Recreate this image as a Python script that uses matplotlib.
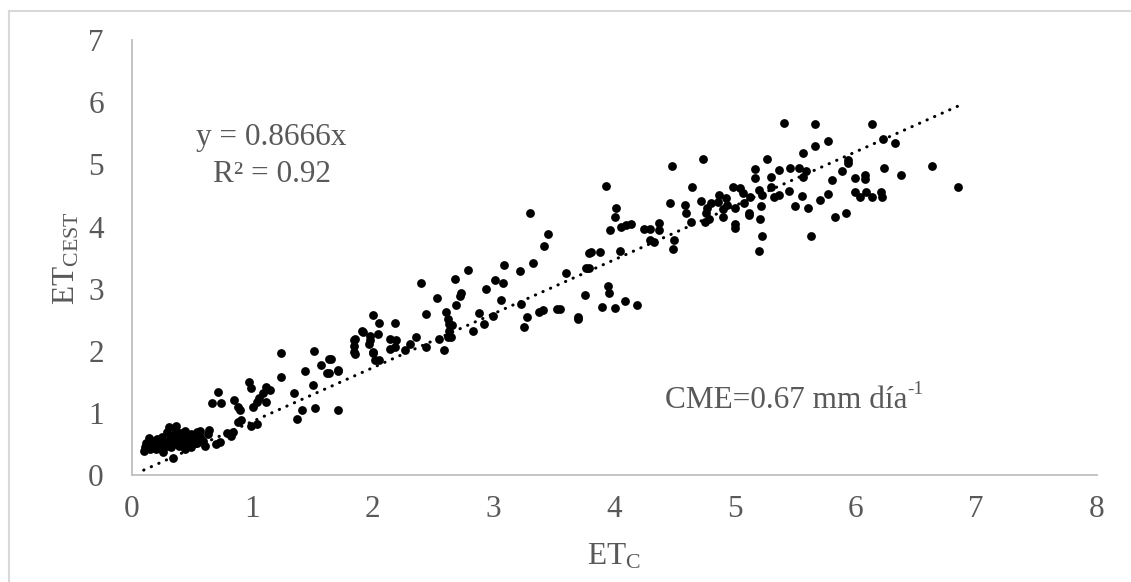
import matplotlib
matplotlib.use("Agg")
import matplotlib.pyplot as plt
from matplotlib.lines import Line2D

plt.rcParams['font.family'] = ['Liberation Serif', 'DejaVu Serif']
plt.rcParams['mathtext.fontset'] = 'custom'
plt.rcParams['mathtext.rm'] = 'Liberation Serif'
plt.rcParams['mathtext.it'] = 'Liberation Serif:italic'

# ETc (x) vs ETcest (y)
etc = [
    # low cluster
    0.10, 0.11, 0.12, 0.14, 0.15, 0.17, 0.19, 0.20, 0.21, 0.22, 0.24, 0.25, 0.27, 0.29,
    0.29, 0.31, 0.32, 0.34, 0.35, 0.37, 0.37, 0.39, 0.39, 0.41, 0.42, 0.44, 0.44, 0.46,
    0.47, 0.49, 0.49, 0.51, 0.54, 0.54, 0.57, 0.59, 0.61, 0.63, 0.26, 0.16, 0.33, 0.45,
    0.34, 0.64, 0.73, 0.79, 0.84, 0.88,
    # 0.5 - 2
    1.24, 1.51, 1.64, 1.57, 1.44, 1.62, 1.71, 1.24, 0.97, 0.99, 1.11, 1.15, 1.09, 1.06,
    1.04, 1.01, 0.72, 0.67, 0.74, 0.85, 0.88, 0.90, 1.11, 1.35, 1.50, 1.41, 1.37, 1.52,
    1.71, 0.91, 0.99, 1.04, 0.82, 0.70, 0.57, 1.84, 1.84, 1.92, 1.98, 2.00, 2.02,
    # 2 - 4
    3.45, 3.42, 3.79, 3.09, 3.33, 3.22, 2.79, 3.77, 3.60, 2.40, 2.68, 3.01, 3.08, 2.94,
    2.73, 2.72, 2.53, 3.06, 2.69, 3.23, 3.76, 2.44, 2.61, 2.62, 2.63, 2.66, 2.63, 2.62,
    2.65, 2.88, 2.92, 3.00, 3.28, 3.38, 3.41, 3.53, 3.70, 3.25, 2.83, 2.55, 2.59, 2.00,
    2.05, 2.18, 1.91, 1.98, 2.04, 1.97, 1.85, 1.84, 1.85, 2.14, 2.19, 2.14, 2.18, 2.00,
    2.05, 2.27, 2.31, 2.36, 2.44, 1.65, 1.71, 1.64, 3.30,
    # 4 - 5.7
    5.41, 5.67, 5.67, 5.57, 4.74, 4.48, 5.27, 5.17, 5.17, 5.37, 5.46, 5.53, 5.59, 5.57,
    5.30, 5.30, 5.45, 5.56, 5.50, 5.61, 5.63, 5.33, 5.23, 5.20, 4.99, 5.04, 5.07, 5.13,
    5.22, 5.21, 5.23, 5.20, 5.00, 5.00, 5.12, 5.12, 5.08, 5.00, 4.87, 4.93, 4.86, 4.94,
    4.90, 4.80, 4.77, 4.76, 4.79, 4.75, 4.90, 4.72, 4.65, 4.59, 4.60, 4.46, 4.64, 3.93,
    4.02, 4.01, 3.97, 4.06, 4.10, 4.14, 4.25, 4.30, 4.37, 4.37, 4.30, 4.33, 4.50, 4.49,
    3.81, 3.88, 4.05, 3.79, 3.95, 3.96, 4.09, 4.19, 3.90, 4.01, 3.70, 3.55,
    # 5.7 - 7
    6.14, 5.77, 5.94, 5.94, 5.89, 6.23, 6.33, 6.24, 6.64, 6.85, 6.38, 5.81, 6.00, 6.08,
    6.08, 6.00, 6.09, 6.04, 6.14, 6.21, 6.22, 5.77, 5.71, 5.83, 5.92, 5.37,
]
etc_est = [
    0.40, 0.46, 0.52, 0.60, 0.42, 0.55, 0.48, 0.42, 0.58, 0.50, 0.44, 0.62, 0.52, 0.70,
    0.47, 0.78, 0.58, 0.65, 0.52, 0.80, 0.72, 0.60, 0.48, 0.68, 0.55, 0.72, 0.42, 0.62,
    0.50, 0.66, 0.45, 0.58, 0.70, 0.52, 0.62, 0.55, 0.48, 0.67, 0.38, 0.50, 0.45, 0.56,
    0.28, 0.73, 0.54, 0.68, 0.70, 0.86,
    1.97, 2.00, 1.88, 1.78, 1.68, 1.65, 1.68, 1.58, 1.50, 1.40, 1.42, 1.38, 1.32, 1.24,
    1.18, 1.10, 1.35, 1.16, 1.16, 1.21, 1.10, 1.06, 1.18, 1.33, 1.45, 1.06, 0.90, 1.09,
    1.06, 0.89, 0.79, 0.83, 0.64, 0.51, 0.72, 2.17, 1.99, 2.31, 2.17, 1.99, 1.85,
    3.88, 3.69, 3.58, 3.39, 3.42, 3.29, 3.30, 3.33, 3.25, 3.09, 3.16, 3.14, 3.10, 3.00,
    2.94, 2.89, 2.85, 2.82, 2.74, 2.76, 2.90, 2.59, 2.63, 2.51, 2.44, 2.42, 2.33, 2.23,
    2.23, 2.61, 2.44, 2.56, 2.55, 2.63, 2.66, 2.67, 2.51, 2.38, 2.32, 2.20, 2.02, 2.58,
    2.45, 2.45, 2.33, 2.24, 2.28, 2.12, 2.20, 2.08, 1.96, 2.20, 2.17, 2.04, 2.07, 1.97,
    1.86, 2.01, 2.12, 2.22, 2.07, 1.88, 1.69, 1.64, 4.22,
    5.66, 5.65, 5.30, 5.19, 5.08, 4.98, 5.09, 4.92, 4.78, 4.91, 4.94, 4.94, 4.90, 4.80,
    4.80, 4.64, 4.58, 4.50, 4.33, 4.30, 3.85, 4.48, 4.51, 4.59, 4.64, 4.62, 4.54, 4.48,
    4.33, 4.12, 3.85, 3.61, 4.04, 3.97, 4.22, 4.19, 4.38, 4.30, 4.51, 4.46, 4.40, 4.35,
    4.29, 4.38, 4.30, 4.22, 4.13, 4.08, 4.16, 4.42, 4.64, 4.35, 4.22, 4.38, 4.08, 4.65,
    4.30, 4.16, 3.95, 4.00, 4.03, 4.04, 3.96, 3.96, 4.06, 3.95, 3.78, 3.76, 3.79, 3.64,
    3.59, 3.60, 3.61, 3.33, 3.04, 2.94, 2.80, 2.74, 2.71, 2.70, 2.54, 2.68,
    5.65, 5.38, 5.07, 5.02, 4.90, 5.41, 5.35, 4.95, 4.98, 4.64, 4.83, 4.75, 4.78, 4.83,
    4.76, 4.56, 4.56, 4.47, 4.48, 4.55, 4.47, 4.52, 4.43, 4.15, 4.22, 4.51,
]

slope = 0.8666
r2 = 0.92
cme = 0.67

x_ticks = [0, 1, 2, 3, 4, 5, 6, 7, 8]
y_ticks = [0, 1, 2, 3, 4, 5, 6, 7]

grey = '#595959'
fs = 22.5

fig = plt.figure(figsize=(11.31, 5.82), dpi=100)
ax = fig.add_axes([0.1164, 0.1830, 0.8531, 0.7483])

ax.scatter(etc, etc_est, s=40, color='black', linewidths=0, zorder=3)

# trendline through origin, over the data range
x0, x1 = min(etc), max(etc)
ax.plot([x0, x1], [slope * x0, slope * x1], color='black', lw=2.2,
        linestyle=(0, (0.1, 2.6)), dash_capstyle='round', zorder=4)

ax.set_xlim(0, 8)
ax.set_ylim(0, 7)
ax.set_xticks(x_ticks)
ax.set_yticks(y_ticks)
ax.tick_params(length=0, labelsize=fs, labelcolor=grey)
ax.tick_params(axis='y', pad=20)
ax.tick_params(axis='x', pad=14)

for s in ['top', 'right']:
    ax.spines[s].set_visible(False)
for s in ['left', 'bottom']:
    ax.spines[s].set_color('#bfbfbf')
    ax.spines[s].set_linewidth(1.3)

ax.set_xlabel(r'ET$_{\mathrm{C}}$', fontsize=fs, color=grey)
ax.xaxis.set_label_coords(0.5, -0.152)
ax.set_ylabel(r'ET$_{\mathrm{CEST}}$', fontsize=fs, color=grey)
ax.yaxis.set_label_coords(-0.052, 0.5)

ax.text(1.16, 5.44, 'y = %.4fx' % slope, fontsize=fs, color=grey,
        ha='center', va='center')
ax.text(1.16, 4.83, 'R² = %.2f' % r2, fontsize=fs, color=grey,
        ha='center', va='center')
t = ax.text(4.42, 1.21, 'CME=%.2f mm día' % cme, fontsize=fs,
            color=grey, ha='left', va='center')
ax.annotate('-1', xy=(1.0, 0.58), xycoords=t, fontsize=fs * 0.62,
            color=grey, ha='left', va='bottom')

# chart area border (left and top edges visible)
fig.add_artist(Line2D([0.008, 0.008], [0.0, 0.9816], color='#d9d9d9', lw=1.5))
fig.add_artist(Line2D([0.008, 1.0], [0.9816, 0.9816], color='#d9d9d9', lw=1.5))

fig.savefig('out.png', dpi=100)
